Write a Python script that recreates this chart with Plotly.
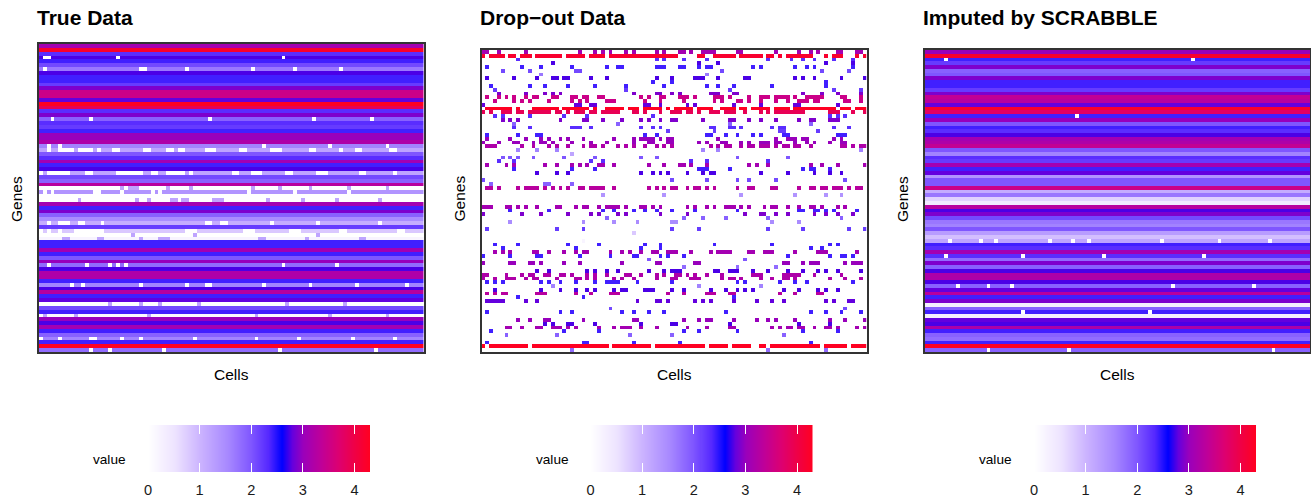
import numpy as np
import plotly.graph_objects as go

W, H = 1311, 497
TITLES = ["True Data", "Drop\u2212out Data", "Imputed by SCRABBLE"]
N_CELLS = 100
N_GENES = 80
LEGEND_TICKS = [0, 1, 2, 3, 4]
VALUE_MAX = 4.3

# Typical expression of each gene, read top to bottom
TRUE_ROWS = [3.1,4.2,2.3,2.75,2.4,2.1,1.7,2.75,2.4,2.4,2.2,2.9,3.5,3.5,2.8,4.3,3.9,2.3,2.9,1.9,
             2.3,2.2,2.4,3.0,3.0,3.2,1.6,1.2,2.0,2.3,3.1,2.4,2.75,1.2,2.1,1.9,3.3,0.0,1.4,0.0,
             0.0,3.1,2.4,2.9,1.9,1.5,1.1,2.2,0.8,0.0,0.2,2.4,2.4,3.1,2.4,2.0,3.0,1.8,2.75,3.2,
             3.2,2.4,1.6,2.75,3.3,2.4,2.8,0.0,2.1,2.4,0.1,3.0,2.75,3.1,2.4,1.9,1.6,2.4,4.3,1.8]
IMPUTED_ROWS = [3.0,4.2,2.4,2.2,2.9,1.9,2.0,2.9,2.4,2.4,2.2,2.9,3.4,3.3,2.8,4.2,3.8,2.4,3.0,2.0,
                2.4,2.3,2.75,3.1,3.2,3.4,2.0,1.6,2.3,2.2,3.1,2.4,2.8,1.4,2.0,2.0,3.5,1.1,1.7,0.7,
                0.4,3.3,2.75,2.9,2.1,1.7,1.6,2.0,1.3,0.9,1.2,2.4,2.3,3.1,2.3,1.8,2.9,1.9,2.75,3.2,
                3.2,2.75,1.9,2.8,3.3,2.4,2.9,0.3,1.9,2.4,0.3,2.8,2.75,3.2,2.4,1.9,1.8,2.4,4.3,1.9]

# Cells that stand out as zero in the True Data panel: gene -> cells
TRUE_ZEROS = {
    3:[1,2,20,63], 6:[1,26,27,38,55,66,78], 19:[3,13,44,71,86], 26:[2,5,58,75,90],
    27:[2,5,6,7,8,10,11,12,13,15,19,20,27,28,33,34,36,37,43,44,45,52,53,60,61,62,70,71,78,82,83,91,92],
    33:[0,2,3,4,5,6,7,12,13,20,21,22,23,24,25,26,29,30,33,34,35,36,37,39,50,51,55,56,57,64,65,72,73,74,83,84,92],
    38:[1,3,14,15,21,29,31,54,66,80],
    46:[2,5,6,7,10,11,16,43,44,47,48,60,72,88],
    48:[0,2,5,9,10,11,12,13,14,15,16,38,39,40,53,54,55,65,66,67,78,79,93,94],
    57:[2,12,18,20,22,63,77], 62:[8,11,26,38,43,44,58,70,82,95],
    76:[0,5,13,14,21,26,40,56,67,81,92], 79:[13,18,32,62,87],
}
# Cells that are tinted in otherwise empty genes of the True Data panel
TRUE_TINTS = {
    37:[21,23,24,25,33,39,55,62,70,80,90],
    39:[],
    40:[10,25,28,34,35,37,38,45,46,47,59,68,77,88],
    49:[24,40,72],
    50:[6,7,15,16,26,31,32,33,57,58,69,83,84],
    67:[18,26,31,41,64,79],
    70:[1,9,28,56,75,90],
}
# Cells that stand out as zero in the imputed panel
IMPUTED_ZEROS = {
    2:[5,69], 17:[39], 50:[6,14,18,32,38,42,61,76,89],
    54:[5,25,46,72], 62:[8,16,22,64,85], 69:[25,58], 79:[16,37,90],
}
# Non-zero cells of the drop-out panel, per gene
DROPOUT_CELLS = [
 [0,1,4,11,25,29,31,33,37,39,45,47,51,52,54,57,58,59,60,66,67,76,82,85,87,92,93,97,98],
 [0,2,3,4,5,7,8,10,11,12,14,15,16,17,18,19,20,22,23,24,25,26,28,29,30,31,33,34,35,36,37,38,39,40,41,42,43,44,45,46,47,48,49,50,56,57,60,61,62,63,64,65,67,68,69,70,71,72,74,75,77,79,80,81,82,83,84,85,89,91,92,93,97,99],
 [9,45,47,52,58,74,80,83,86,91,96],
 [18,56,61,89,96],
 [1,10,15,23,32,35,36,45,46,47,51,52,56,58,59,70,72,81,84,86,96],
 [5,12,24,25,62,88,95],
 [15,58],
 [1,8,14,18,19,21,22,28,32,45,49,55,56,57,61,68,69,81,83,86,93,99],
 [44,49,89],
 [2,12,16,22,29,37,47,58,61,65,75,89],
 [3,37,64,91,98],
 [4,11,16,18,20,39,45,46,49,51,59,60,61,65,66,83,88,92,98],
 [1,4,6,8,11,13,14,18,19,23,24,26,27,30,31,41,43,46,47,51,52,53,55,60,61,62,64,69,72,73,74,76,77,78,79,81,84,85,86,87,88,93,94,98],
 [3,8,10,12,17,23,25,27,32,33,34,42,46,52,60,62,66,67,69,72,76,79,82,83,84,86,87,94,95,98],
 [0,24,25,28,29,42,43,46,53,55,65,72,81,82,92],
 [1,2,3,4,5,6,7,9,13,14,15,16,17,18,19,21,22,23,24,25,26,27,29,32,33,34,35,36,38,39,40,42,43,44,45,46,48,50,51,52,53,54,56,57,58,59,62,63,64,65,67,68,70,71,72,73,74,76,77,78,79,81,82,83,84,85,86,87,88,89,90,91,93,94,95,97,98,99],
 [0,2,5,6,7,9,10,12,13,14,15,16,17,19,20,22,24,25,26,28,29,31,32,33,34,35,39,40,42,46,49,50,51,53,54,56,59,60,61,63,64,65,68,72,74,76,77,78,79,80,81,82,83,90,91,92,96,99],
 [3,5,12,21,27,44,90,92,94],
 [5,7,9,20,26,27,31,36,41,43,46,49,50,57,64,65,69,72,76,82,85,86,90,91,92],
 [8,35,64,85],
 [8,12,23,24,25,28,41,44,46,59,60,64,65,67,75,77,78,91,95],
 [48,60,77,78,87],
 [1,9,14,15,42,45,58,59,63,66,70,72,78,79,92,93,94],
 [1,7,11,15,17,20,22,26,34,39,41,42,43,44,46,48,49,61,76,79,80,81,83,84,91,93],
 [0,4,8,9,13,15,16,18,23,28,32,39,43,44,48,49,56,58,62,63,67,69,72,73,74,76,77,81,84,86,90,93,94],
 [1,2,3,10,13,17,19,22,26,28,29,31,35,37,39,42,45,47,49,59,61,63,64,67,69,70,72,73,74,76,78,79,81,82,85,93,94,96,98,99],
 [9,14,19,57,61,98],
 [23],
 [5,7,9,13,21,29,41,45,66,79],
 [4,8,28,31,54,58,74],
 [1,6,8,16,19,23,25,27,30,31,34,43,47,51,52,54,58,69,71,74,85,88,92,99],
 [8,23,29,56,57,58,64,83,85,86,90],
 [14,19,22,41,44,46,48,53,57,59,60,72,79,86,90,93],
 [],
 [0,49,58,66,69,76,94],
 [2,16,17,23],
 [1,2,4,9,11,12,13,14,16,18,20,22,25,26,28,29,30,31,34,43,45,47,49,50,53,55,56,58,60,66,69,70,75,76,82,85,86,88,89,91,92,93,95,97,98],
 [],
 [31,47,67,81,89,93],
 [],
 [],
 [0,1,2,6,7,9,11,14,19,20,24,26,27,30,32,33,34,35,37,41,42,44,46,53,55,58,60,63,64,65,67,69,73,75,76,79,82,85,86,88,92,94],
 [7,17,31,34,39,42,45,49,55,66,82,83,86,87,89,91,97],
 [0,10,15,22,28,30,35,37,46,53,68,72,73,76,79,86,89,92,96],
 [32,52,57,63,74,93],
 [7,26,34,40,49,50,75,82],
 [],
 [1,19,26,49,56,74,83,95,99],
 [39],
 [],
 [26],
 [3,9,22,30,42,46,60,75,90,92],
 [5,24,41,46,85,88],
 [3,5,7,13,14,17,21,24,26,27,33,36,38,41,44,45,48,49,50,54,59,61,62,63,64,69,70,73,74,75,81,87,88,89,97],
 [0,7,14,15,25,33,39,40,46,48,52,79,90,93,94,96],
 [43,68],
 [0,7,8,12,13,15,21,25,36,45,46,55,56,78,79,83,85,86,87,94,96,97,98],
 [52,66,76],
 [14,17,27,29,32,35,43,47,49,50,51,60,61,64,65,66,70,74,79,83,87,89,92,98],
 [0,1,6,10,12,13,16,17,20,21,23,27,29,32,37,38,41,45,47,50,51,53,55,58,62,70,71,72,78,79,80,81,82,86,93],
 [0,3,6,7,8,11,13,14,19,24,25,27,29,34,36,39,45,49,50,54,55,56,62,64,65,67,72,75,78,79,81,90,94,98],
 [1,3,5,15,17,20,24,29,32,33,34,35,40,49,66,68,77,81,84,96],
 [18,56,72],
 [3,15,20,24,27,29,34,36,37,42,43,44,49,52,59,63,66,68,70,78,82,87,89,92],
 [1,3,5,6,14,15,16,24,28,33,34,35,48,52,58,59,60,64,65,77,81,87,88],
 [9,26,65],
 [1,2,3,4,5,11,14,40,45,46,48,55,57,59,65,71,75,78,89,91,95,96],
 [],
 [33,94],
 [1,20,23,36,39,43,47,63,85,89,93,98],
 [],
 [9,12,16,17,26,39,40,52,56,58,59,65,71,74,76,81,90,94,99],
 [16,18,22,23,29,41,49,50,64,82,90],
 [6,7,10,14,15,18,19,20,22,24,30,34,36,37,38,41,45,53,58,64,65,75,77,79,80,82,83,86,89,90,92,97,99],
 [2,21,30,52,56,66,83,92],
 [6,19,38,49,78],
 [],
 [1,26,27,39,51,85],
 [0,2,3,4,5,6,7,8,9,10,11,13,14,15,16,17,18,19,20,21,22,23,24,25,26,27,28,29,30,31,32,34,35,36,37,38,39,40,41,42,43,45,46,47,48,49,50,51,52,53,54,55,56,57,59,60,61,62,63,65,66,67,68,69,72,73,75,76,77,78,79,80,81,82,83,84,85,86,87,89,90,91,92,93,94,96,97,98,99],
 [23,74,89],
]

# white to blue below 2.6, blue to red above it
MID = 2.6 / VALUE_MAX
COLORSCALE = [
    [0.0, "#FFFFFF"], [MID*0.2, "#EDE3FF"], [MID*0.39, "#CBB3FF"], [MID*0.6, "#A687FF"],
    [MID*0.77, "#7F56FF"], [MID*0.9, "#5528FF"], [MID, "#0000FF"],
    [MID+(1-MID)*0.12, "#6600DD"], [MID+(1-MID)*0.24, "#9A00BB"], [MID+(1-MID)*0.45, "#BF0098"],
    [MID+(1-MID)*0.65, "#DD0070"], [MID+(1-MID)*0.82, "#EE0048"], [1.0, "#FF0022"],
]


def true_matrix():
    z = np.tile(np.array(TRUE_ROWS)[:, None], (1, N_CELLS))
    for g, cols in TRUE_ZEROS.items():
        z[g, cols] = 0
    for g, cols in TRUE_TINTS.items():
        z[g, cols] = 1.2
    return z


def dropout_matrix():
    z = np.zeros((N_GENES, N_CELLS))
    for g, cols in enumerate(DROPOUT_CELLS):
        z[g, cols] = TRUE_ROWS[g] if TRUE_ROWS[g] > 0 else 1.2
    return z


def imputed_matrix():
    z = np.tile(np.array(IMPUTED_ROWS)[:, None], (1, N_CELLS))
    for g, cols in IMPUTED_ZEROS.items():
        z[g, cols] = 0
    return z


MATRICES = [true_matrix(), dropout_matrix(), imputed_matrix()]

# pixel boxes: left, right, top, bottom
PANELS = [(39, 423.5, 44, 352), (481.5, 866.5, 50, 352), (925, 1310, 50, 352)]
LEGENDS = [(148, 370), (590.5, 812.5), (1034, 1256)]
LEG_TOP, LEG_BOT = 425, 472
FONT = "Liberation Sans"
TEXT_SIZE = 14.6


def fx(p):
    return p / W


def fy(p):
    return 1 - p / H


fig = go.Figure()
layout = {}
legend_x = np.linspace(0, VALUE_MAX, 222)
for i in range(3):
    l, r, t, b = PANELS[i]
    n = 2 * i + 1
    xa, ya = f"xaxis{n}", f"yaxis{n}"
    fig.add_trace(go.Heatmap(z=MATRICES[i], xaxis=f"x{n}", yaxis=f"y{n}", zmin=0, zmax=VALUE_MAX,
                             colorscale=COLORSCALE, showscale=False, hoverinfo="skip"))
    axis = dict(showgrid=False, zeroline=False, showticklabels=False, ticks="",
                showline=True, mirror=True, linecolor="#333333", linewidth=2)
    layout[xa] = dict(domain=[fx(l), fx(r)], range=[-0.5, N_CELLS - 0.5], anchor=f"y{n}", **axis)
    layout[ya] = dict(domain=[fy(b), fy(t)], range=[N_GENES - 0.5, -0.5], anchor=f"x{n}", **axis)

    ll, lr = LEGENDS[i]
    m = 2 * i + 2
    fig.add_trace(go.Heatmap(z=[legend_x], x=legend_x, y=[0], xaxis=f"x{m}", yaxis=f"y{m}",
                             zmin=0, zmax=VALUE_MAX, colorscale=COLORSCALE, showscale=False,
                             hoverinfo="skip"))
    layout[f"xaxis{m}"] = dict(domain=[fx(ll), fx(lr)], range=[0, VALUE_MAX], anchor=f"y{m}",
                               showgrid=False, zeroline=False, showline=False,
                               tickmode="array", tickvals=LEGEND_TICKS, ticktext=[str(v) for v in LEGEND_TICKS],
                               ticks="inside", ticklen=9, tickwidth=1, tickcolor="white", mirror="ticks",
                               ticklabelstandoff=7,
                               tickfont=dict(family=FONT, size=TEXT_SIZE, color="#1a1a1a"))
    layout[f"yaxis{m}"] = dict(domain=[fy(LEG_BOT), fy(LEG_TOP)], range=[-0.5, 0.5], anchor=f"x{m}",
                               showgrid=False, zeroline=False, showticklabels=False, ticks="", showline=False)

annotations = []
for i in range(3):
    l, r, t, b = PANELS[i]
    ll, lr = LEGENDS[i]
    annotations.append(dict(text=f"<b>{TITLES[i]}</b>", x=fx(l - 4), y=fy(17), xref="paper", yref="paper",
                            xanchor="left", yanchor="middle", showarrow=False,
                            font=dict(family=FONT, size=21, color="black")))
    annotations.append(dict(text="Cells", x=fx((l + r) / 2), y=fy(374), xref="paper", yref="paper",
                            xanchor="center", yanchor="middle", showarrow=False,
                            font=dict(family=FONT, size=15.5, color="black")))
    annotations.append(dict(text="Genes", x=fx(l - 23), y=fy(199), xref="paper", yref="paper", textangle=-90,
                            xanchor="center", yanchor="middle", showarrow=False,
                            font=dict(family=FONT, size=15.5, color="black")))
    annotations.append(dict(text="value", x=fx(ll - 20), y=fy(459), xref="paper", yref="paper",
                            xanchor="right", yanchor="middle", showarrow=False,
                            font=dict(family=FONT, size=13.6, color="black")))

fig.update_layout(width=W, height=H, margin=dict(l=0, r=0, t=0, b=0, autoexpand=False), paper_bgcolor="white",
                  plot_bgcolor="white", showlegend=False, annotations=annotations, **layout)
fig.write_html("out.html", post_script="document.body.style.margin='0';",
               config={"displayModeBar": False})
